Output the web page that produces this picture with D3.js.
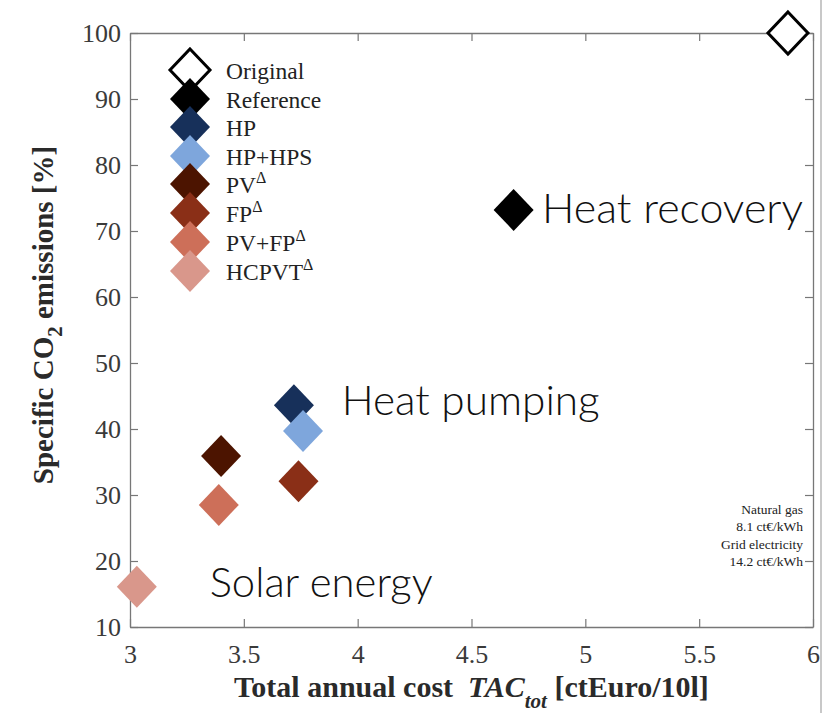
<!DOCTYPE html>
<html>
<head>
<meta charset="utf-8">
<script src="https://cdn.jsdelivr.net/npm/d3@7"></script>
<style>
  html, body { margin: 0; padding: 0; background: #fff; }
  svg { display: block; }
</style>
</head>
<body>
<svg id="chart" width="825" height="713"></svg>
<script>
// Scenario names, legend labels, colours and values
const scenarios = ["Original", "Reference", "HP", "HP+HPS", "PV", "FP", "PV+FP", "HCPVT"];
const legendSup = ["", "", "", "", "Δ", "Δ", "Δ", "Δ"];
const colors = ["#ffffff", "#000000", "#17305a", "#7ea6dc", "#4c1400", "#8a2f17", "#cd6f59", "#d9978b"];
const cost = [5.89, 4.685, 3.72, 3.76, 3.40, 3.74, 3.39, 3.03];          // TAC_tot [ctEuro/10l]
const emissions = [100, 73.2, 43.6, 39.7, 35.9, 32.1, 28.5, 16.1];        // specific CO2 [%]
const xTicks = [3, 3.5, 4, 4.5, 5, 5.5, 6];
const yTicks = [10, 20, 30, 40, 50, 60, 70, 80, 90, 100];
const groupLabels = ["Heat recovery", "Heat pumping", "Solar energy"];
const groupAnchor = [[4.81, 71.2], [3.93, 42.1], [3.35, 14.55]];   // baseline start of each label
const groupWidth = [261, 258, 223];
const noteLines = ["Natural gas", "8.1 ct€/kWh", "Grid electricity", "14.2 ct€/kWh"];

const svg = d3.select("#chart");
const m = { left: 130, right: 813, top: 33, bottom: 627 };
const x = d3.scaleLinear().domain([3, 6]).range([m.left, m.right]);
const y = d3.scaleLinear().domain([10, 100]).range([m.bottom, m.top]);

const axisColor = "#777";
const serif = "'Liberation Serif', 'Times New Roman', serif";

// light frame line at the far right edge
svg.append("line").attr("x1", 821).attr("x2", 821).attr("y1", 0).attr("y2", 713)
  .attr("stroke", "#c8c8c8").attr("stroke-width", 2);

// axes (box with inward ticks)
const tickLen = 8;
function styleAxis(g) {
  g.attr("font-family", serif).attr("font-size", 26);
  g.selectAll("path.domain").attr("stroke", axisColor).attr("stroke-width", 1.3);
  g.selectAll(".tick line").attr("stroke", axisColor).attr("stroke-width", 1.2);
  g.selectAll(".tick text").attr("fill", "#3a3a3a");
}
const gx = svg.append("g").attr("transform", `translate(0,${m.bottom})`)
  .call(d3.axisBottom(x).tickValues(xTicks).tickSizeInner(-tickLen).tickSizeOuter(0).tickPadding(18).tickFormat(d3.format("")));
styleAxis(gx);
const gxTop = svg.append("g").attr("transform", `translate(0,${m.top})`)
  .call(d3.axisTop(x).tickValues(xTicks).tickSizeInner(-tickLen).tickSizeOuter(0).tickFormat(""));
styleAxis(gxTop);
const gy = svg.append("g").attr("transform", `translate(${m.left},0)`)
  .call(d3.axisLeft(y).tickValues(yTicks).tickSizeInner(-tickLen).tickSizeOuter(0).tickPadding(9));
styleAxis(gy);
const gyR = svg.append("g").attr("transform", `translate(${m.right},0)`)
  .call(d3.axisRight(y).tickValues(yTicks).tickSizeInner(-tickLen).tickSizeOuter(0).tickFormat(""));
styleAxis(gyR);

// axis titles
const xt = svg.append("text").attr("x", (m.left + m.right) / 2).attr("y", 697)
  .attr("text-anchor", "middle").attr("fill", "#2a2a2a").attr("xml:space", "preserve")
  .style("white-space", "pre")
  .style("font-family", serif).style("font-size", "30px").style("font-weight", "bold");
xt.append("tspan").text("Total annual cost  ");
xt.append("tspan").style("font-style", "italic").text("TAC");
xt.append("tspan").attr("dy", 11).style("font-style", "italic").style("font-size", "21px").text("tot");
xt.append("tspan").attr("dy", -11).text(" [ctEuro/10l]");

const yt = svg.append("text").attr("transform", `translate(53,${(m.top + m.bottom) / 2 - 15}) rotate(-90)`)
  .attr("text-anchor", "middle").attr("fill", "#2a2a2a")
  .style("font-family", serif).style("font-size", "29px").style("font-weight", "bold");
yt.append("tspan").text("Specific CO");
yt.append("tspan").attr("dy", 9).style("font-size", "21px").text("2");
yt.append("tspan").attr("dy", -9).text(" emissions [%]");

// diamond marker path
const hw = 20, hh = 21;
const diamond = `M0,${-hh}L${hw},0L0,${hh}L${-hw},0Z`;

// scenario markers
const idx = d3.range(scenarios.length);
svg.append("g").selectAll("path").data(idx).join("path")
  .attr("d", diamond)
  .attr("transform", i => `translate(${x(cost[i])},${y(emissions[i])})`)
  .attr("fill", i => colors[i])
  .attr("stroke", i => i === 0 ? "#000" : "none")
  .attr("stroke-width", 3);

// legend
const lg = svg.append("g");
const legY = [70, 99, 127, 156, 184, 213, 242, 271];
idx.forEach(i => {
  lg.append("path").attr("d", diamond)
    .attr("transform", `translate(190,${legY[i]})`)
    .attr("fill", colors[i])
    .attr("stroke", i === 0 ? "#000" : "none").attr("stroke-width", 3);
  const t = lg.append("text").attr("x", 226).attr("y", legY[i] + 9)
    .attr("fill", "#222").style("font-family", serif).style("font-size", "23.5px");
  t.append("tspan").text(scenarios[i]);
  if (legendSup[i]) t.append("tspan").attr("dy", -10).style("font-size", "16px").text(legendSup[i]);
});

// group annotations
const sans = "Lato, 'Open Sans', sans-serif";
groupLabels.forEach((s, i) => {
  svg.append("text")
    .attr("x", x(groupAnchor[i][0])).attr("y", y(groupAnchor[i][1]))
    .attr("textLength", groupWidth[i]).attr("lengthAdjust", "spacingAndGlyphs")
    .attr("fill", "#111").style("font-family", sans).style("font-weight", 300)
    .style("font-size", "41px").text(s);
});

// tariff note
noteLines.forEach((s, i) => {
  svg.append("text").attr("x", 803).attr("y", 514 + i * 17.3)
    .attr("text-anchor", "end").attr("fill", "#222")
    .style("font-family", serif).style("font-size", "13.5px").text(s);
});
</script>
</body>
</html>
